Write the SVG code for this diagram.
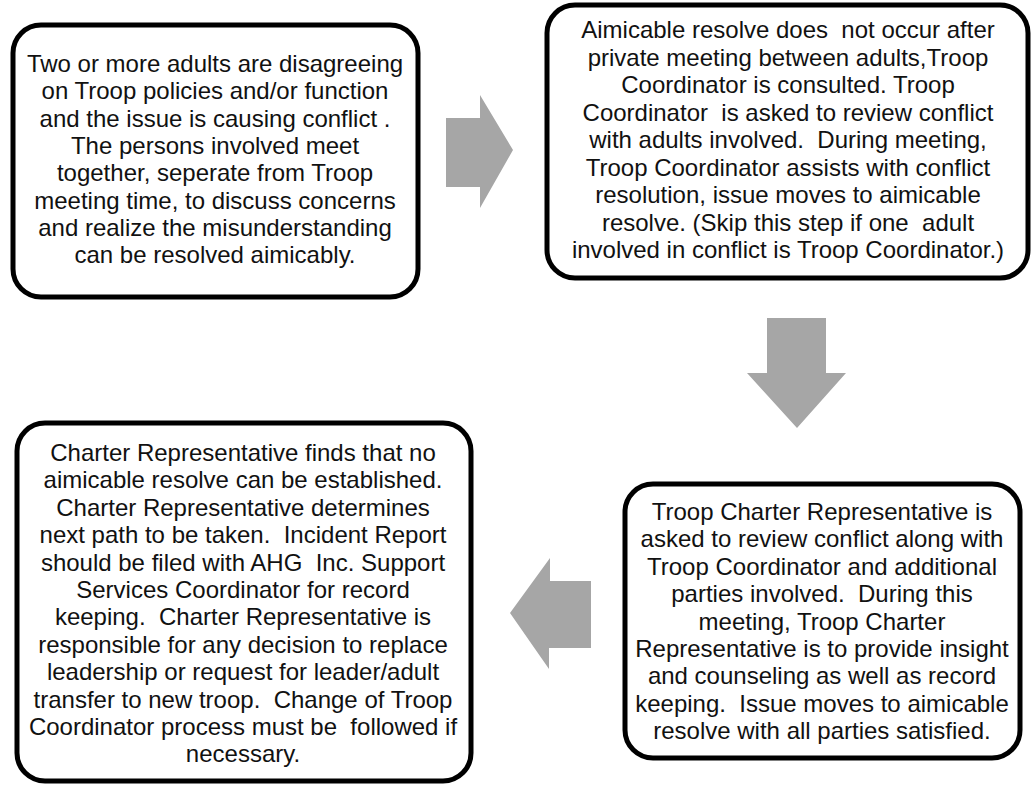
<svg xmlns="http://www.w3.org/2000/svg" width="1031" height="786" viewBox="0 0 1031 786">
<style>
.box{fill:#fff;stroke:#000;stroke-width:5}
.t{font-family:"Liberation Sans",Arial,sans-serif;font-size:24px;fill:#111;text-anchor:middle;white-space:pre}
.arr{fill:#a6a6a6}
</style>
<rect width="1031" height="786" fill="#fff"/>
<g id="connectors">
<polygon class="arr" points="446,118 480,118 480,95 513,150 480,208 480,187 446,187"/>
<polygon class="arr" points="767,318 826,318 826,373 846,373 797,428 747,373 767,373"/>
<polygon class="arr" points="591,581 550,581 550,558 510,613 549,669 549,648 591,648"/>
</g>
<g id="node1">
<rect class="box" x="13" y="25" width="405" height="272" rx="28"/>
<text class="t" x="215" y="72">Two or more adults are disagreeing</text>
<text class="t" x="215" y="99.3">on Troop policies and/or function</text>
<text class="t" x="215" y="126.6">and the issue is causing conflict .</text>
<text class="t" x="215" y="153.9">The persons involved meet</text>
<text class="t" x="215" y="181.2">together, seperate from Troop</text>
<text class="t" x="215" y="208.5">meeting time, to discuss concerns</text>
<text class="t" x="215" y="235.8">and realize the misunderstanding</text>
<text class="t" x="215" y="263.1">can be resolved aimicably.</text>
</g>
<g id="node2">
<rect class="box" x="547" y="5" width="481" height="273" rx="28"/>
<text class="t" x="788" y="38">Aimicable resolve does  not occur after</text>
<text class="t" x="788" y="65.5">private meeting between adults,Troop</text>
<text class="t" x="788" y="93">Coordinator is consulted. Troop</text>
<text class="t" x="788" y="120.5">Coordinator  is asked to review conflict</text>
<text class="t" x="788" y="148">with adults involved.  During meeting,</text>
<text class="t" x="788" y="175.5">Troop Coordinator assists with conflict</text>
<text class="t" x="788" y="203">resolution, issue moves to aimicable</text>
<text class="t" x="788" y="230.5">resolve. (Skip this step if one  adult</text>
<text class="t" x="788" y="258">involved in conflict is Troop Coordinator.)</text>
</g>
<g id="node3">
<rect class="box" x="625" y="484" width="395" height="274" rx="28"/>
<text class="t" x="822" y="520">Troop Charter Representative is</text>
<text class="t" x="822" y="547.4">asked to review conflict along with</text>
<text class="t" x="822" y="574.8">Troop Coordinator and additional</text>
<text class="t" x="822" y="602.2">parties involved.  During this</text>
<text class="t" x="822" y="629.6">meeting, Troop Charter</text>
<text class="t" x="822" y="657">Representative is to provide insight</text>
<text class="t" x="822" y="684.4">and counseling as well as record</text>
<text class="t" x="822" y="711.8">keeping.  Issue moves to aimicable</text>
<text class="t" x="822" y="739.2">resolve with all parties satisfied.</text>
</g>
<g id="node4">
<rect class="box" x="17" y="423" width="454" height="358" rx="28"/>
<text class="t" x="243" y="461">Charter Representative finds that no</text>
<text class="t" x="243" y="488.4">aimicable resolve can be established.</text>
<text class="t" x="243" y="515.8">Charter Representative determines</text>
<text class="t" x="243" y="543.2">next path to be taken.  Incident Report</text>
<text class="t" x="243" y="570.6">should be filed with AHG  Inc. Support</text>
<text class="t" x="243" y="598">Services Coordinator for record</text>
<text class="t" x="243" y="625.4">keeping.  Charter Representative is</text>
<text class="t" x="243" y="652.8">responsible for any decision to replace</text>
<text class="t" x="243" y="680.2">leadership or request for leader/adult</text>
<text class="t" x="243" y="707.6">transfer to new troop.  Change of Troop</text>
<text class="t" x="243" y="735">Coordinator process must be  followed if</text>
<text class="t" x="243" y="762.4">necessary.</text>
</g>
</svg>
